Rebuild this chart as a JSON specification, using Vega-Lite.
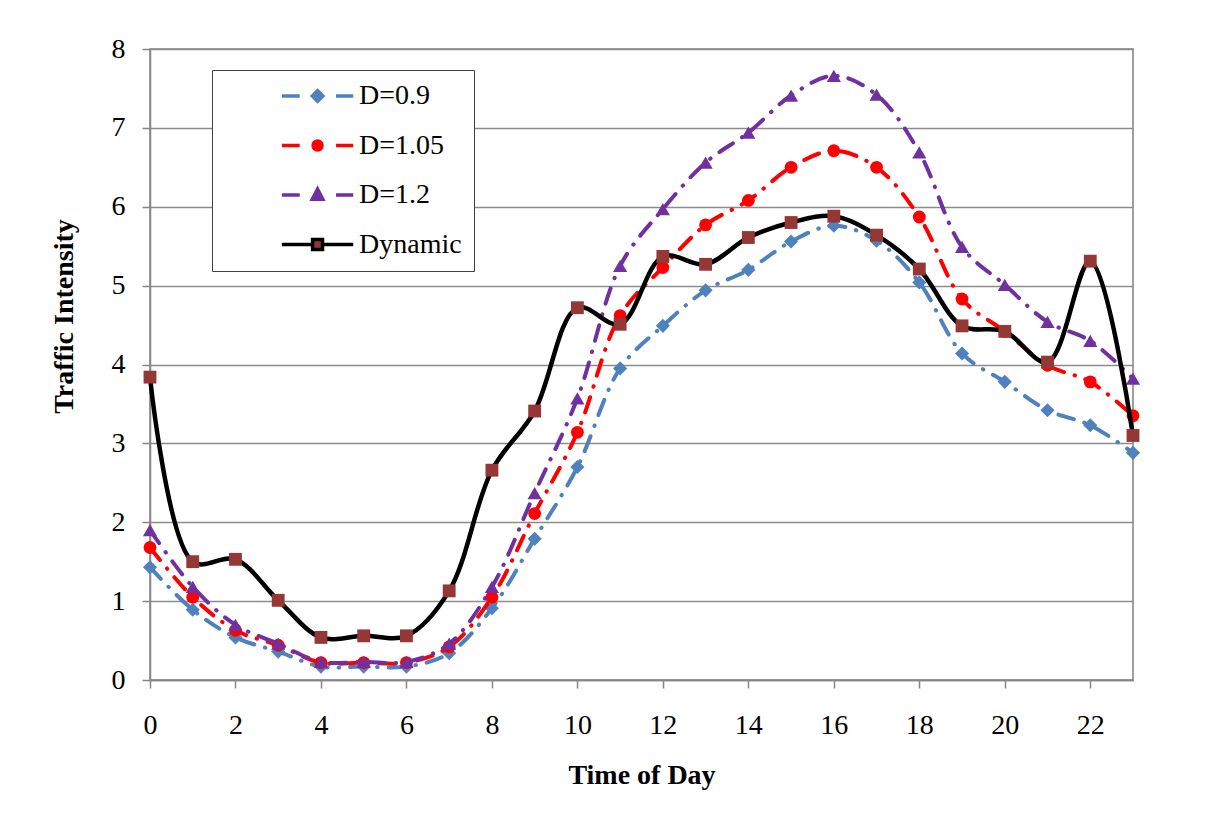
{
  "$schema": "https://vega.github.io/schema/vega-lite/v6.json",
  "width": 983,
  "height": 631,
  "autosize": "none",
  "padding": {"left": 150, "top": 49, "right": 76, "bottom": 136},
  "background": "white",
  "config": {
    "font": "Liberation Serif",
    "view": {"stroke": "#808080", "strokeWidth": 1.5},
    "axis": {
      "labelFont": "Liberation Serif",
      "titleFont": "Liberation Serif",
      "labelFontSize": 28,
      "titleFontSize": 28,
      "titleFontWeight": "bold",
      "labelColor": "black",
      "titleColor": "black",
      "domainColor": "#868686",
      "domainWidth": 1.5,
      "tickColor": "#868686",
      "tickWidth": 1.5,
      "tickSize": 8,
      "labelFlush": false,
      "labelOverlap": false
    },
    "legend": {
      "orient": "none",
      "legendX": 62,
      "legendY": 21,
      "padding": 12,
      "strokeColor": "#404040",
      "fillColor": "white",
      "labelFont": "Liberation Serif",
      "labelFontSize": 28,
      "labelColor": "black",
      "labelOffset": 4,
      "labelLimit": 400,
      "symbolSize": 16256,
      "symbolStrokeWidth": 3.5,
      "symbolOpacity": 1,
      "clipHeight": 28,
      "rowPadding": 21.5
    }
  },
  "data": {
    "values": [
      {"h": 0, "series": "D=0.9", "v": 1.43}, {"h": 1, "series": "D=0.9", "v": 0.89}, {"h": 2, "series": "D=0.9", "v": 0.54}, {"h": 3, "series": "D=0.9", "v": 0.36},
      {"h": 4, "series": "D=0.9", "v": 0.17}, {"h": 5, "series": "D=0.9", "v": 0.17}, {"h": 6, "series": "D=0.9", "v": 0.17}, {"h": 7, "series": "D=0.9", "v": 0.34},
      {"h": 8, "series": "D=0.9", "v": 0.91}, {"h": 9, "series": "D=0.9", "v": 1.79}, {"h": 10, "series": "D=0.9", "v": 2.70}, {"h": 11, "series": "D=0.9", "v": 3.95},
      {"h": 12, "series": "D=0.9", "v": 4.49}, {"h": 13, "series": "D=0.9", "v": 4.94}, {"h": 14, "series": "D=0.9", "v": 5.20}, {"h": 15, "series": "D=0.9", "v": 5.56},
      {"h": 16, "series": "D=0.9", "v": 5.76}, {"h": 17, "series": "D=0.9", "v": 5.57}, {"h": 18, "series": "D=0.9", "v": 5.04}, {"h": 19, "series": "D=0.9", "v": 4.14},
      {"h": 20, "series": "D=0.9", "v": 3.78}, {"h": 21, "series": "D=0.9", "v": 3.42}, {"h": 22, "series": "D=0.9", "v": 3.23}, {"h": 23, "series": "D=0.9", "v": 2.88},
      {"h": 0, "series": "D=1.05", "v": 1.68}, {"h": 1, "series": "D=1.05", "v": 1.05}, {"h": 2, "series": "D=1.05", "v": 0.63}, {"h": 3, "series": "D=1.05", "v": 0.44},
      {"h": 4, "series": "D=1.05", "v": 0.22}, {"h": 5, "series": "D=1.05", "v": 0.22}, {"h": 6, "series": "D=1.05", "v": 0.22}, {"h": 7, "series": "D=1.05", "v": 0.42},
      {"h": 8, "series": "D=1.05", "v": 1.05}, {"h": 9, "series": "D=1.05", "v": 2.11}, {"h": 10, "series": "D=1.05", "v": 3.14}, {"h": 11, "series": "D=1.05", "v": 4.62},
      {"h": 12, "series": "D=1.05", "v": 5.23}, {"h": 13, "series": "D=1.05", "v": 5.77}, {"h": 14, "series": "D=1.05", "v": 6.08}, {"h": 15, "series": "D=1.05", "v": 6.50},
      {"h": 16, "series": "D=1.05", "v": 6.71}, {"h": 17, "series": "D=1.05", "v": 6.50}, {"h": 18, "series": "D=1.05", "v": 5.87}, {"h": 19, "series": "D=1.05", "v": 4.83},
      {"h": 20, "series": "D=1.05", "v": 4.42}, {"h": 21, "series": "D=1.05", "v": 3.99}, {"h": 22, "series": "D=1.05", "v": 3.78}, {"h": 23, "series": "D=1.05", "v": 3.35},
      {"h": 0, "series": "D=1.2", "v": 1.90}, {"h": 1, "series": "D=1.2", "v": 1.18}, {"h": 2, "series": "D=1.2", "v": 0.70}, {"h": 3, "series": "D=1.2", "v": 0.46},
      {"h": 4, "series": "D=1.2", "v": 0.23}, {"h": 5, "series": "D=1.2", "v": 0.23}, {"h": 6, "series": "D=1.2", "v": 0.23}, {"h": 7, "series": "D=1.2", "v": 0.46},
      {"h": 8, "series": "D=1.2", "v": 1.18}, {"h": 9, "series": "D=1.2", "v": 2.37}, {"h": 10, "series": "D=1.2", "v": 3.57}, {"h": 11, "series": "D=1.2", "v": 5.25},
      {"h": 12, "series": "D=1.2", "v": 5.97}, {"h": 13, "series": "D=1.2", "v": 6.56}, {"h": 14, "series": "D=1.2", "v": 6.94}, {"h": 15, "series": "D=1.2", "v": 7.41},
      {"h": 16, "series": "D=1.2", "v": 7.66}, {"h": 17, "series": "D=1.2", "v": 7.42}, {"h": 18, "series": "D=1.2", "v": 6.69}, {"h": 19, "series": "D=1.2", "v": 5.49},
      {"h": 20, "series": "D=1.2", "v": 5.01}, {"h": 21, "series": "D=1.2", "v": 4.54}, {"h": 22, "series": "D=1.2", "v": 4.30}, {"h": 23, "series": "D=1.2", "v": 3.82},
      {"h": 0, "series": "Dynamic", "v": 3.84}, {"h": 1, "series": "Dynamic", "v": 1.50}, {"h": 2, "series": "Dynamic", "v": 1.53}, {"h": 3, "series": "Dynamic", "v": 1.01},
      {"h": 4, "series": "Dynamic", "v": 0.54}, {"h": 5, "series": "Dynamic", "v": 0.56}, {"h": 6, "series": "Dynamic", "v": 0.56}, {"h": 7, "series": "Dynamic", "v": 1.13},
      {"h": 8, "series": "Dynamic", "v": 2.66}, {"h": 9, "series": "Dynamic", "v": 3.41}, {"h": 10, "series": "Dynamic", "v": 4.72}, {"h": 11, "series": "Dynamic", "v": 4.51},
      {"h": 12, "series": "Dynamic", "v": 5.37}, {"h": 13, "series": "Dynamic", "v": 5.27}, {"h": 14, "series": "Dynamic", "v": 5.61}, {"h": 15, "series": "Dynamic", "v": 5.80},
      {"h": 16, "series": "Dynamic", "v": 5.88}, {"h": 17, "series": "Dynamic", "v": 5.64}, {"h": 18, "series": "Dynamic", "v": 5.21}, {"h": 19, "series": "Dynamic", "v": 4.49},
      {"h": 20, "series": "Dynamic", "v": 4.42}, {"h": 21, "series": "Dynamic", "v": 4.03}, {"h": 22, "series": "Dynamic", "v": 5.31}, {"h": 23, "series": "Dynamic", "v": 3.10}
    ]
  },
  "encoding": {
    "x": {
      "field": "h", "type": "quantitative",
      "scale": {"domain": [0, 23], "nice": false, "zero": false},
      "axis": {"values": [0, 2, 4, 6, 8, 10, 12, 14, 16, 18, 20, 22], "format": "d", "title": "Time of Day", "grid": false, "labelPadding": 23, "titlePadding": 22}
    },
    "y": {
      "field": "v", "type": "quantitative",
      "scale": {"domain": [0, 8], "nice": false},
      "axis": {"values": [0, 1, 2, 3, 4, 5, 6, 7, 8], "format": "d", "title": "Traffic Intensity", "grid": true, "gridColor": "#8c8c8c", "gridWidth": 1.5, "labelPadding": 17, "titleAngle": -90, "titleBaseline": "bottom", "titleAlign": "center", "titleX": -72, "titleY": 267}
    }
  },
  "layer": [
    {
      "transform": [{"filter": {"field": "series", "equal": "D=0.9"}}],
      "mark": {"type": "line", "interpolate": "catmull-rom", "strokeWidth": 4, "strokeCap": "round", "color": "#4F81BD", "strokeDash": [16, 11, 0.5, 11]}
    },
    {
      "transform": [{"filter": {"field": "series", "equal": "D=0.9"}}],
      "mark": {"type": "point", "filled": true, "shape": "diamond", "size": 200, "color": "#4F81BD", "opacity": 1, "strokeWidth": 0}
    },
    {
      "transform": [{"filter": {"field": "series", "equal": "D=1.05"}}],
      "mark": {"type": "line", "interpolate": "catmull-rom", "strokeWidth": 4, "strokeCap": "round", "color": "#FF0000", "strokeDash": [16, 11, 0.5, 11]}
    },
    {
      "transform": [{"filter": {"field": "series", "equal": "D=1.05"}}],
      "mark": {"type": "point", "filled": true, "shape": "circle", "size": 165, "color": "#FF0000", "opacity": 1, "strokeWidth": 0}
    },
    {
      "transform": [{"filter": {"field": "series", "equal": "D=1.2"}}],
      "mark": {"type": "line", "interpolate": "catmull-rom", "strokeWidth": 4, "strokeCap": "round", "color": "#7030A0", "strokeDash": [16, 11, 0.5, 11]}
    },
    {
      "transform": [{"filter": {"field": "series", "equal": "D=1.2"}}],
      "mark": {"type": "point", "filled": true, "shape": "triangle-up", "size": 200, "color": "#7030A0", "opacity": 1, "strokeWidth": 0}
    },
    {
      "transform": [{"filter": {"field": "series", "equal": "Dynamic"}}],
      "mark": {"type": "line", "interpolate": "catmull-rom", "strokeWidth": 4.5, "color": "#000000"}
    },
    {
      "transform": [{"filter": {"field": "series", "equal": "Dynamic"}}],
      "mark": {"type": "point", "filled": true, "shape": "square", "size": 165, "color": "#953735", "opacity": 1, "strokeWidth": 0}
    },
    {
      "mark": {"type": "point", "filled": true, "strokeWidth": 3.5, "opacity": 0},
      "encoding": {
        "fill": {
          "field": "series", "type": "nominal",
          "scale": {"domain": ["D=0.9", "D=1.05", "D=1.2", "Dynamic"], "range": ["#4F81BD", "#FF0000", "#7030A0", "#953735"]},
          "legend": {"title": null, "labelFont": "Liberation Serif"}
        },
        "stroke": {
          "field": "series", "type": "nominal",
          "scale": {"domain": ["D=0.9", "D=1.05", "D=1.2", "Dynamic"], "range": ["#4F81BD", "#FF0000", "#7030A0", "#000000"]},
          "legend": {"title": null, "labelFont": "Liberation Serif"}
        },
        "shape": {
          "field": "series", "type": "nominal",
          "scale": {
            "domain": ["D=0.9", "D=1.05", "D=1.2", "Dynamic"],
            "range": [
              "M-1,0M-0.12,0H0.16M0.73,0H1M0.44,-0.083L0.523,0L0.44,0.083L0.357,0Z",
              "M-1,0M-0.12,0H0.16M0.73,0H1M0.37,0A0.07,0.07 0 1,0 0.51,0A0.07,0.07 0 1,0 0.37,0Z",
              "M-1,0M-0.12,0H0.16M0.73,0H1M0.44,-0.092L0.522,0.066L0.358,0.066Z",
              "M-1,0M-0.12,0H0.362M0.518,0H1M0.362,-0.078H0.518V0.078H0.362Z"
            ]
          },
          "legend": {"title": null, "labelFont": "Liberation Serif"}
        }
      }
    }
  ]
}
